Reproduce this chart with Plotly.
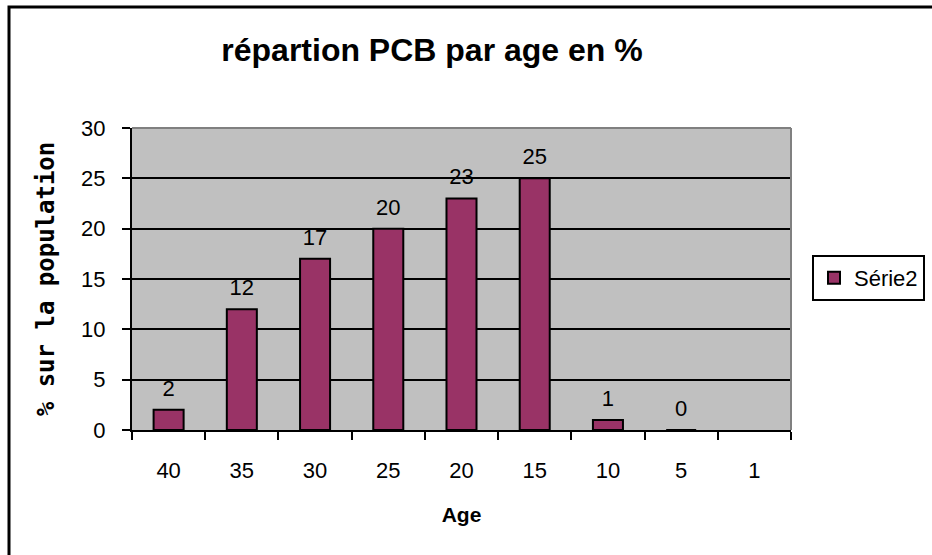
import plotly.graph_objects as go

categories = ["40", "35", "30", "25", "20", "15", "10", "5", "1"]
values = [2, 12, 17, 20, 23, 25, 1, 0, None]
labels = ["2", "12", "17", "20", "23", "25", "1", "0", ""]
y_ticks = [0, 5, 10, 15, 20, 25, 30]

BAR = "#993366"
FONT = "Liberation Sans, Arial, sans-serif"

fig = go.Figure()
fig.add_trace(go.Bar(
    x=categories, y=values, name="Série2",
    marker=dict(color=BAR, line=dict(color="black", width=2)),
    showlegend=True,
))
fig.add_trace(go.Scatter(
    x=categories, y=values,
    mode="markers+text", text=labels, textposition="top center",
    marker=dict(size=12, opacity=0),
    textfont=dict(family=FONT, size=22, color="black"),
    showlegend=False, hoverinfo="skip",
))

L, R, T, B = 132, 141, 128, 125
W, H = 932, 555
pw, ph = W - L - R, H - T - B

def px(x):
    return (x - L) / pw

def py(y):
    return (H - B - y) / ph

fig.update_layout(
    width=W, height=H,
    margin=dict(l=L, r=R, t=T, b=B, pad=0, autoexpand=False),
    paper_bgcolor="white", plot_bgcolor="#C0C0C0",
    bargap=0.59,
    font=dict(family=FONT, size=22, color="black"),
    title=dict(text="<b>répartion PCB par age en %</b>", xref="container", x=432 / W,
               xanchor="center", yref="container", y=1 - 50 / H, yanchor="middle",
               font=dict(size=32, family=FONT)),
    legend=dict(x=px(812), y=py(278), xanchor="left", yanchor="middle",
                bgcolor="white", bordercolor="black", borderwidth=2,
                font=dict(size=22, family=FONT), itemwidth=30, tracegroupgap=0),
    xaxis=dict(type="category", range=[-0.5, 8.5], showgrid=False, showline=True,
               linecolor="black", linewidth=2,
               ticks="outside", tickson="boundaries", ticklen=8, tickwidth=2, tickcolor="black",
               ticklabelstandoff=20,
               title=dict(text="<b>Age</b>", standoff=25, font=dict(size=21, family=FONT))),
    yaxis=dict(range=[0, 30], tickvals=y_ticks, showgrid=True, gridcolor="black", gridwidth=2,
               zeroline=False, showline=True, linecolor="black", linewidth=2,
               ticks="outside", ticklen=8, tickwidth=2, tickcolor="black",
               ticklabelstandoff=12,
               title=dict(text="<b>% sur la population</b>", standoff=20,
                          font=dict(size=24, family="DejaVu Sans Mono, monospace"))),
    shapes=[
        dict(type="line", xref="paper", yref="paper", x0=0, x1=1, y0=1, y1=1,
             line=dict(color="#808080", width=2), layer="above"),
        dict(type="line", xref="paper", yref="paper", x0=1, x1=1, y0=0, y1=1,
             line=dict(color="#808080", width=2), layer="above"),
        dict(type="rect", xref="paper", yref="paper", x0=px(9), x1=px(1000), y0=py(620), y1=py(7),
             line=dict(color="black", width=3), fillcolor="rgba(0,0,0,0)", layer="below"),
    ],
)

fig.write_html("out.html", config={"displayModeBar": False},
               post_script="document.body.style.margin='0';document.body.style.overflow='hidden';")
